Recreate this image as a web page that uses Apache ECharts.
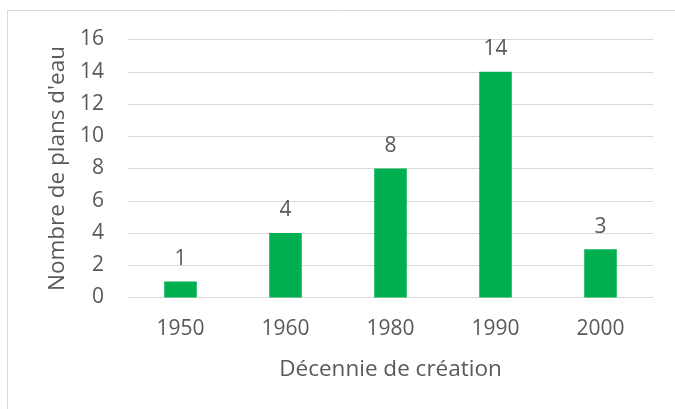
<!DOCTYPE html>
<html>
<head>
<meta charset="utf-8">
<script src="https://cdn.jsdelivr.net/npm/echarts@6/dist/echarts.min.js"></script>
<style>
  html, body { margin: 0; padding: 0; background: #fff; }
  #chart { width: 675px; height: 409px; }
</style>
</head>
<body>
<div id="chart"></div>
<script>
var decennies = ["1950", "1960", "1980", "1990", "2000"];
var nbPlans = [1, 4, 8, 14, 3];
var yTicks = [0, 2, 4, 6, 8, 10, 12, 14, 16];

var myChart = echarts.init(document.getElementById("chart"));
var txt = "#595959";
var police = "Open Sans";

var option = {
  backgroundColor: "#fff",
  animation: false,
  graphic: [{
    type: "rect",
    shape: { x: 7.5, y: 10.5, width: 700, height: 420 },
    style: { fill: "none", stroke: "#d9d9d9", lineWidth: 1 },
    silent: true
  }],
  grid: { left: 128, right: 22, top: 39.5, bottom: 111.5 },
  xAxis: {
    type: "category",
    data: decennies,
    name: "Décennie de création",
    nameLocation: "middle",
    nameGap: 61,
    nameTextStyle: { color: txt, fontSize: 22.5, fontFamily: police },
    axisLine: { show: true, lineStyle: { color: "#d9d9d9", width: 1 } },
    axisTick: { show: false },
    axisLabel: { color: txt, fontSize: 21, fontFamily: police, margin: 21 }
  },
  yAxis: {
    type: "value",
    min: yTicks[0],
    max: yTicks[yTicks.length - 1],
    interval: 2,
    name: "Nombre de plans d'eau",
    nameLocation: "middle",
    nameGap: 58,
    nameTextStyle: { color: txt, fontSize: 22.5, fontFamily: police },
    axisLine: { show: false },
    axisTick: { show: false },
    axisLabel: { color: txt, fontSize: 21, fontFamily: police, margin: 24 },
    splitLine: { lineStyle: { color: "#d9d9d9", width: 1 } }
  },
  series: [{
    type: "bar",
    data: nbPlans,
    barWidth: "31%",
    itemStyle: { color: "#00b050" },
    label: {
      show: true,
      position: "top",
      distance: 12,
      color: txt,
      fontSize: 21,
      fontFamily: police
    }
  }]
};

myChart.setOption(option);
</script>
</body>
</html>
